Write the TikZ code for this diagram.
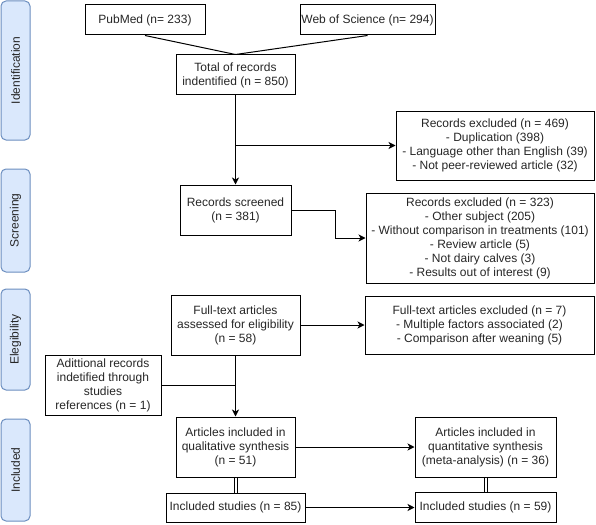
\documentclass[tikz,border=0pt]{standalone}
\usepackage{fontspec}
\setmainfont{Liberation Sans}
\usetikzlibrary{arrows.meta}
\definecolor{lblfill}{HTML}{DAE8FC}
\definecolor{lbldraw}{HTML}{6C8EBF}
\begin{document}
\begin{tikzpicture}[x=1pt,y=-1pt,
  box/.style={draw=black, line width=1pt, align=center, inner sep=0pt,
    font=\fontsize{12}{14}\selectfont, text=black!85},
  lbl/.style={draw=lbldraw, fill=lblfill, line width=1pt, rounded corners=5pt,
    inner sep=0pt, minimum width=29pt},
  lbltext/.style={rotate=90, font=\fontsize{12}{14}\selectfont, text=black!85},
  conn/.style={draw=black, line width=1pt},
  arr/.style={conn, -{Stealth[length=7pt,width=7pt,inset=2pt]}},
  dbl/.style={draw=black, double=white, double distance=2pt, line width=1pt}
]
\useasboundingbox (0,0) rectangle (596,524);
% phase labels
\node[lbl, minimum height=139pt] (lid) at (15.5,70.5) {};
\node[lbltext] (tid) at (lid.center) {Identification};
\node[lbl, minimum height=103pt] (lsc) at (15.5,220.5) {};
\node[lbltext] (tsc) at (lsc.center) {Screening};
\node[lbl, minimum height=101pt] (lel) at (15.5,339.5) {};
\node[lbltext] (tel) at (lel.center) {Elegibility};
\node[lbl, minimum height=102pt] (lin) at (15.5,470) {};
\node[lbltext] (tin) at (lin.center) {Included};
% boxes
\node[box, minimum width=120pt, minimum height=30pt] (pub) at (145,20) {PubMed (n= 233)};
\node[box, minimum width=135pt, minimum height=30pt] (wos) at (367.5,20) {Web of Science (n= 294)};
\node[box, minimum width=119pt, minimum height=40pt] (total) at (235.5,75) {Total of records\\indentified (n = 850)};
\node[box, minimum width=198pt, minimum height=69pt] (exc1) at (495,145.5) {Records excluded (n = 469)\\- Duplication (398)\\- Language other than English (39)\\- Not peer-reviewed article (32)};
\node[box, minimum width=111pt, minimum height=50pt] (scr) at (235.5,210) {Records screened\\(n = 381)};
\node[box, minimum width=228pt, minimum height=90pt] (exc2) at (480,238) {Records excluded (n = 323)\\- Other subject (205)\\- Without comparison in treatments (101)\\- Review article (5)\\- Not dairy calves (3)\\- Results out of interest (9)};
\node[box, minimum width=129pt, minimum height=60pt] (ft) at (235.5,325) {Full-text articles\\assessed for eligibility\\(n = 58)};
\node[box, minimum width=229pt, minimum height=58pt] (ftexc) at (479.5,325) {Full-text articles excluded (n = 7)\\- Multiple factors associated (2)\\- Comparison after weaning (5)};
\node[box, minimum width=116pt, minimum height=60pt] (add) at (103,385) {Adittional records\\indetified through\\studies\\references (n = 1)};
\node[box, minimum width=119pt, minimum height=60pt] (qual) at (235.5,447) {Articles included in\\qualitative synthesis\\(n = 51)};
\node[box, minimum width=141pt, minimum height=60pt] (quant) at (485.5,447) {Articles included in\\quantitative synthesis\\(meta-analysis) (n = 36)};
\node[box, minimum width=139pt, minimum height=29pt] (inc1) at (235.5,507.5) {Included studies (n = 85)};
\node[box, minimum width=141pt, minimum height=30pt] (inc2) at (485.5,507.5) {Included studies (n = 59)};
% connectors
\draw[conn] (pub.south) -- (total.north);
\draw[conn] (wos.south) -- (total.north);
\coordinate (j1) at (235.5,145.5);
\draw[arr] (total.south) -- (scr.north);
\draw[arr] (j1) -- (exc1.west);
\draw[arr] (scr.east) -- ++(44,0) |- (exc2.west);
\draw[arr] (ft.south) -- (qual.north);
\draw[conn] (add.east) -- (add.east -| ft.south);
\draw[arr] (ft.east) -- (ftexc.west);
\draw[arr] (qual.east) -- (quant.west);
\draw[arr] (inc1.east) -- (inc2.west);
\draw[dbl] (qual.south) -- (inc1.north);
\draw[dbl] (quant.south) -- (inc2.north);
\end{tikzpicture}
\end{document}
